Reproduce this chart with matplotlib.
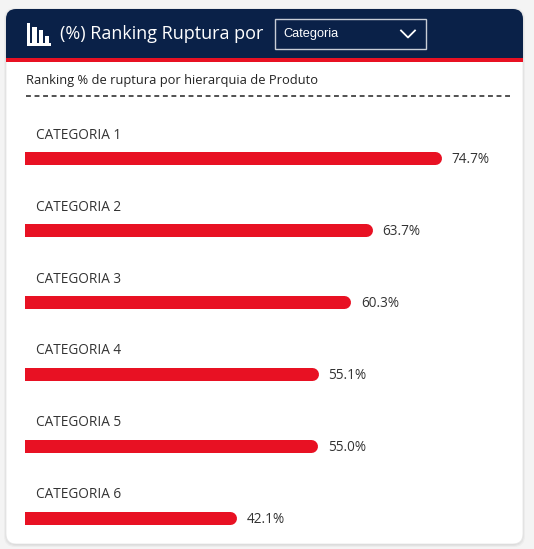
import matplotlib
matplotlib.use("Agg")
import matplotlib.pyplot as plt
from matplotlib.patches import FancyBboxPatch, Rectangle
from matplotlib.lines import Line2D

# ---- data ----
categories = ["CATEGORIA 1", "CATEGORIA 2", "CATEGORIA 3",
              "CATEGORIA 4", "CATEGORIA 5", "CATEGORIA 6"]
values = [74.7, 63.7, 60.3, 55.1, 55.0, 42.1]
title = "(%) Ranking Ruptura por"
dropdown_text = "Categoria"
subtitle = "Ranking % de ruptura por hierarquia de Produto"

NAVY = "#0A2148"
RED = "#E81123"
TXT = "#333333"
FONT = ["Open Sans", "DejaVu Sans"]
plt.rcParams["font.family"] = FONT

W, H = 534, 549
DPI = 100
fig = plt.figure(figsize=(W / DPI, H / DPI), dpi=DPI)
fig.patch.set_facecolor("#F4F4F4")

# background / decoration axes in pixel coordinates
bg = fig.add_axes([0, 0, 1, 1])
bg.set_xlim(0, W)
bg.set_ylim(H, 0)
bg.axis("off")

# card shadow + card
for i, a in enumerate([0.05, 0.04, 0.03]):
    bg.add_patch(FancyBboxPatch((6 - i, 9 - i + 1), 517 + 2 * i, 535 + 2 * i,
                                boxstyle="round,pad=0,rounding_size=11",
                                fc="#000000", ec="none", alpha=a, zorder=0))
bg.add_patch(FancyBboxPatch((6, 9), 517, 535,
                            boxstyle="round,pad=0,rounding_size=10",
                            fc="white", ec="#E6E6E6", lw=0.6, zorder=1))
# header (rounded top)
bg.add_patch(FancyBboxPatch((6, 9), 517, 40,
                            boxstyle="round,pad=0,rounding_size=10",
                            fc=NAVY, ec="none", zorder=2))
bg.add_patch(Rectangle((6, 30), 517, 27.5, fc=NAVY, ec="none", zorder=2))
bg.add_patch(Rectangle((6, 57.5), 517, 4.2, fc=RED, ec="none", zorder=2))

# icon
ic = dict(fc="white", ec="none", zorder=3)
bg.add_patch(Rectangle((26.5, 22.5), 3.5, 23, **ic))
bg.add_patch(Rectangle((26.5, 42.8), 24.5, 3, **ic))
bg.add_patch(Rectangle((32.3, 26.5), 4.6, 17, **ic))
bg.add_patch(Rectangle((38.5, 29.5), 4.6, 14, **ic))
bg.add_patch(Rectangle((44.8, 35.5), 4.6, 8, **ic))

bg.text(60, 34, title, color="white", fontsize=13, va="center", ha="left",
        zorder=3)

# dropdown
bg.add_patch(Rectangle((274.5, 18.5), 151, 30, fc="none", ec="#C8CDD6",
                       lw=1.0, zorder=3))
bg.text(283, 34, dropdown_text, color="white", fontsize=9.2, va="center",
        ha="left", zorder=3, family=["Liberation Sans Narrow", "Liberation Sans", "DejaVu Sans"])
bg.add_line(Line2D([401, 408, 415], [30.5, 37.5, 30.5], color="white",
                   lw=1.3, zorder=3))

# subtitle + dashed rule
bg.text(26, 80.5, subtitle, color="#222222", fontsize=9.3, va="center",
        ha="left", zorder=3)
bg.add_line(Line2D([26, 512], [96, 96], color="#222222", lw=1.1,
                   dashes=(3.2, 2.4), zorder=3))

# ---- bar chart axes ----
ax_left, ax_right = 25, 520
ax_top, ax_bot = 122, 540
ax = fig.add_axes([ax_left / W, 1 - ax_bot / H,
                   (ax_right - ax_left) / W, (ax_bot - ax_top) / H])
ax.set_facecolor("none")
ax.axis("off")

n = len(categories)
pitch = 71.9
ax.set_ylim(n - 1 + (ax_bot - 517.7) / pitch, -(158.3 - ax_top) / pitch)
px_per_unit = 6.28
x0 = 9.43
ax.set_xlim(x0, x0 + (ax_right - ax_left) / px_per_unit)

bar_px = 13
lw_pt = bar_px * 72 / DPI
for i, (c, v) in enumerate(zip(categories, values)):
    ax.plot([0, v], [i, i], color=RED, lw=lw_pt, solid_capstyle="round",
            zorder=3)
    ax.annotate(f"{v:.1f}%", xy=(v, i), xytext=((bar_px / 2 + 10) * 72 / DPI, -1),
                textcoords="offset points", va="center", ha="left",
                fontsize=9.8, color=TXT, annotation_clip=False)
    ax.annotate(c, xy=(x0, i), xytext=(11 * 72 / DPI, 23 * 72 / DPI),
                textcoords="offset points", va="center", ha="left",
                fontsize=9.8, color=TXT, annotation_clip=False)

fig.savefig("out.png", dpi=DPI, facecolor=fig.get_facecolor())
